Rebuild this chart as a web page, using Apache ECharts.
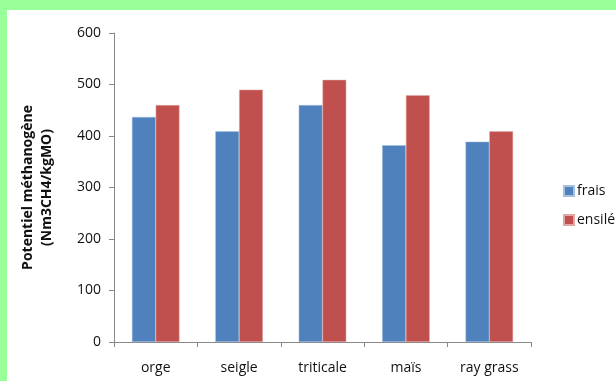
<!DOCTYPE html>
<html>
<head>
<meta charset="utf-8">
<script src="https://cdn.jsdelivr.net/npm/echarts@6/dist/echarts.min.js"></script>
<style>
html,body{margin:0;padding:0;background:#fff;}
#c{width:616px;height:381px;}
</style>
</head>
<body>
<div id="c"></div>
<script>
const categories = ['orge', 'seigle', 'triticale', 'maïs', 'ray grass'];
const seriesNames = ['frais', 'ensilé'];
const fraisValues = [437, 409, 460, 382, 389];
const ensileValues = [460, 490, 509, 479, 409];
const yTicks = [0, 100, 200, 300, 400, 500, 600];

const font = '"Open Sans", Lato, sans-serif';
const chart = echarts.init(document.getElementById('c'), null, {renderer: 'canvas'});
chart.setOption({
  animation: false,
  backgroundColor: '#fff',
  graphic: [
    {type: 'rect', left: 0, top: 0, shape: {width: 616, height: 10}, style: {fill: '#99FF99'}, z: 100},
    {type: 'rect', left: 0, top: 0, shape: {width: 7, height: 381}, style: {fill: '#99FF99'}, z: 100}
  ],
  grid: {left: 114, top: 33, right: 85, bottom: 39, containLabel: false},
  legend: {
    orient: 'vertical',
    left: 558,
    top: 179,
    itemWidth: 10,
    itemHeight: 10,
    itemGap: 15,
    icon: 'rect',
    textStyle: {fontFamily: font, fontSize: 14, color: '#111', padding: [0, 0, 0, -2]},
    data: seriesNames
  },
  xAxis: {
    type: 'category',
    data: categories,
    boundaryGap: true,
    axisLine: {lineStyle: {color: '#888', width: 1}},
    axisTick: {show: true, length: 5, lineStyle: {color: '#888'}},
    axisLabel: {fontFamily: font, fontSize: 14, color: '#111', margin: 19}
  },
  yAxis: {
    type: 'value',
    min: 0,
    max: 600,
    interval: 100,
    name: 'Potentiel méthanogène\n(Nm3CH4/kgMO)',
    nameLocation: 'middle',
    nameGap: 57,
    nameTextStyle: {fontFamily: font, fontSize: 14, fontWeight: 'bold', color: '#111', lineHeight: 19},
    axisLine: {show: true, lineStyle: {color: '#888', width: 1}},
    axisTick: {show: true, length: 5, lineStyle: {color: '#888'}},
    splitLine: {show: false},
    axisLabel: {fontFamily: font, fontSize: 14, color: '#111', margin: 13,
      formatter: v => yTicks.includes(v) ? String(v) : ''}
  },
  series: [
    {name: seriesNames[0], type: 'bar', data: fraisValues, barGap: '0%', barCategoryGap: '43%',
     itemStyle: {color: '#4F81BD', borderColor: '#A7C0DE', borderWidth: 0.5}},
    {name: seriesNames[1], type: 'bar', data: ensileValues, barGap: '0%', barCategoryGap: '43%',
     itemStyle: {color: '#C0504D', borderColor: '#E0A8A6', borderWidth: 0.5}}
  ]
});
</script>
</body>
</html>
